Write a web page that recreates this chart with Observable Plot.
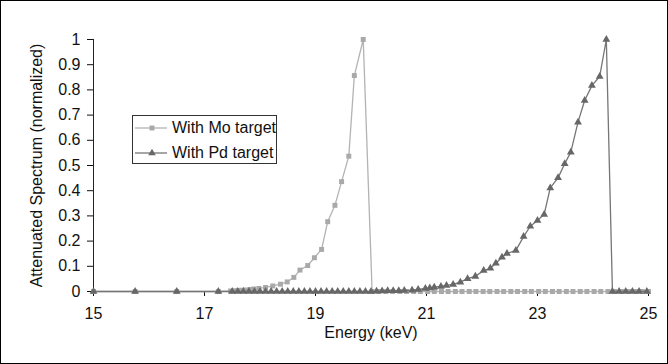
<!DOCTYPE html>
<html><head><meta charset="utf-8">
<script src="https://cdn.jsdelivr.net/npm/d3@7"></script>
<script src="https://cdn.jsdelivr.net/npm/@observablehq/plot@0.6"></script>
<style>
html,body{margin:0;padding:0;background:#fff;}
#wrap{position:relative;width:666px;height:362px;border:1px solid #000;font-family:"Liberation Sans",Arial,sans-serif;background:#fff;}
#legend{position:absolute;left:131px;top:114px;width:143px;height:47px;border:1px solid #333;background:#fff;font-size:16px;color:#111;}
.row{position:absolute;left:0;height:22px;display:flex;align-items:center;white-space:nowrap;}
.row svg{margin-left:2px;margin-right:5px;}
</style></head><body>
<div id="wrap"><div id="chart"></div><div id="legend"></div></div>
<script>
// Series names
const seriesNames = ["With Mo target", "With Pd target"];
// With Mo target
const moEnergy = [15.0, 15.75, 16.5, 17.25, 17.47, 17.53, 17.60, 17.67, 17.74, 17.82, 17.89, 17.98, 18.10, 18.23, 18.37, 18.49, 18.61, 18.72, 18.86, 18.98, 19.11, 19.22, 19.35, 19.47, 19.60, 19.70, 19.86, 20.02, 20.14, 20.27, 20.39, 20.52, 20.64, 20.77, 20.89, 21.02, 21.14, 21.27, 21.39, 21.52, 21.64, 21.77, 21.89, 22.02, 22.14, 22.27, 22.39, 22.52, 22.64, 22.77, 22.89, 23.02, 23.14, 23.27, 23.39, 23.52, 23.64, 23.77, 23.89, 24.02, 24.14, 24.27, 24.39, 24.52, 24.64, 24.77, 24.89, 25.0];
const moValue  = [0, 0, 0, 0, 0.002, 0.003, 0.004, 0.005, 0.006, 0.008, 0.010, 0.012, 0.016, 0.022, 0.029, 0.038, 0.056, 0.085, 0.103, 0.134, 0.167, 0.277, 0.342, 0.436, 0.537, 0.857, 1.0, 0, 0, 0, 0, 0, 0, 0, 0, 0, 0, 0, 0, 0, 0, 0, 0, 0, 0, 0, 0, 0, 0, 0, 0, 0, 0, 0, 0, 0, 0, 0, 0, 0, 0, 0, 0, 0, 0, 0, 0, 0];
// With Pd target
const pdEnergy = [15.0, 15.75, 16.5, 17.25, 17.5, 17.6, 17.7, 17.8, 17.9, 18.0, 18.1, 18.2, 18.3, 18.4, 18.5, 18.6, 18.7, 18.8, 18.9, 19.0, 19.1, 19.2, 19.3, 19.4, 19.5, 19.6, 19.7, 19.8, 19.9, 20.0, 20.1, 20.2, 20.3, 20.4, 20.5, 20.6, 20.74, 20.85, 20.98, 21.06, 21.14, 21.26, 21.36, 21.48, 21.61, 21.74, 21.88, 22.03, 22.15, 22.25, 22.36, 22.45, 22.61, 22.75, 22.87, 23.0, 23.12, 23.23, 23.37, 23.49, 23.60, 23.73, 23.85, 23.98, 24.12, 24.24, 24.35, 24.47, 24.59, 24.71, 24.83, 24.97];
const pdValue  = [0, 0, 0, 0, 0, 0, 0, 0, 0, 0, 0, 0, 0, 0, 0, 0, 0, 0, 0, 0, 0, 0, 0, 0, 0, 0, 0, 0, 0, 0, 0.001, 0.002, 0.003, 0.003, 0.003, 0.004, 0.005, 0.008, 0.012, 0.014, 0.017, 0.020, 0.024, 0.028, 0.037, 0.051, 0.060, 0.083, 0.092, 0.112, 0.136, 0.151, 0.163, 0.218, 0.259, 0.282, 0.306, 0.411, 0.451, 0.507, 0.553, 0.672, 0.758, 0.817, 0.853, 1.0, 0, 0, 0, 0, 0, 0];
// Ticks
const xTicks = [15, 17, 19, 21, 23, 25];
const yTicks = [0, 0.1, 0.2, 0.3, 0.4, 0.5, 0.6, 0.7, 0.8, 0.9, 1];
const xLabel = "Energy (keV)";
const yLabel = "Attenuated Spectrum (normalized)";

const moColor = "#a9a9a9", moLine = "#b3b3b3";
const pdColor = "#676767", pdLine = "#767676";

const mo = moEnergy.map((e, i) => ({e, v: moValue[i]}));
const pd = pdEnergy.map((e, i) => ({e, v: pdValue[i]}));

const chart = Plot.plot({
  width: 666, height: 362,
  marginLeft: 92, marginRight: 19, marginTop: 38, marginBottom: 72,
  style: {fontFamily: '"Liberation Sans", Arial, sans-serif', fontSize: "16px", color: "#111", background: "#fff"},
  x: {domain: [15, 25]},
  y: {domain: [0, 1]},
  marks: [
    Plot.axisY({ticks: yTicks, tickSize: 6, tickPadding: 7, tickFormat: d => String(Math.round(d * 10) / 10), label: yLabel, labelAnchor: "center", labelArrow: "none", labelOffset: 63}),
    Plot.axisX({ticks: xTicks, tickSize: 5, tickPadding: 11, tickFormat: d => String(d), label: xLabel, labelAnchor: "center", labelArrow: "none", labelOffset: 46}),
    Plot.ruleX([15], {y1: 0, y2: 1, stroke: "#222"}),
    Plot.ruleY([0], {x1: 15, x2: 25, stroke: "#222"}),
    Plot.line(mo, {x: "e", y: "v", stroke: moLine, strokeWidth: 1.3}),
    Plot.dot(mo, {x: "e", y: "v", symbol: "square", r: 2.8, fill: moColor}),
    Plot.line(pd, {x: "e", y: "v", stroke: pdLine, strokeWidth: 1.3}),
    Plot.dot(pd, {x: "e", y: "v", symbol: "triangle", r: 2.9, fill: pdColor})
  ]
});
document.getElementById("chart").appendChild(chart);

// Legend
const legend = document.getElementById("legend");
[[seriesNames[0], moLine, moColor, "square"], [seriesNames[1], pdLine, pdColor, "triangle"]].forEach(([name, lc, fc, sym], i) => {
  const row = document.createElement("div");
  row.className = "row";
  row.style.top = (i === 0 ? 1 : 26) + "px";
  const s = d3.create("svg").attr("width", 32).attr("height", 12);
  s.append("line").attr("x1", 0).attr("x2", 32).attr("y1", 6).attr("y2", 6).attr("stroke", lc).attr("stroke-width", 1.3);
  const shape = sym === "square" ? d3.symbolSquare : d3.symbolTriangle;
  s.append("path").attr("d", d3.symbol(shape, Math.PI * 2.8 * 2.8)()).attr("transform", "translate(17,6)").attr("fill", fc);
  row.appendChild(s.node());
  const t = document.createElement("span");
  t.textContent = name;
  row.appendChild(t);
  legend.appendChild(row);
});
</script>
</body></html>
